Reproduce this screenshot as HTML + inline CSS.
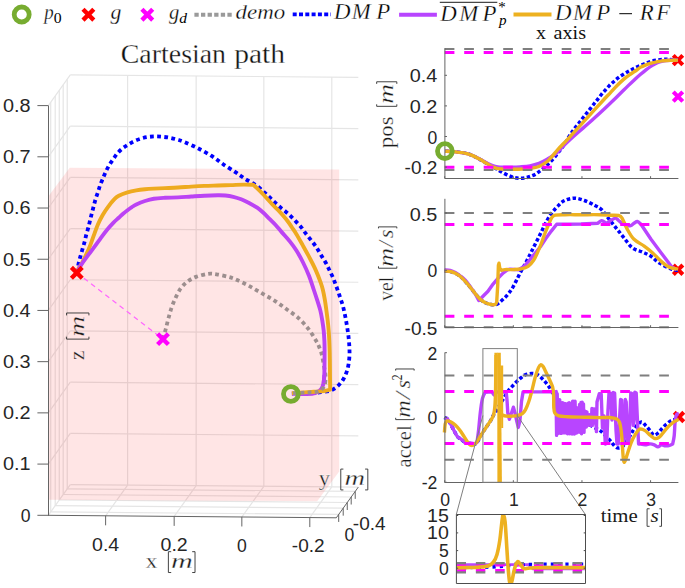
<!DOCTYPE html>
<html><head><meta charset="utf-8"><style>
html,body{margin:0;padding:0;background:#fff;overflow:hidden;}
svg{display:block;}
</style></head><body>
<svg width="685" height="588" viewBox="0 0 685 588">
<rect width="685" height="588" fill="#fff"/>
<g stroke="#E5E5E5" stroke-width="1.2" fill="none">
<line x1="127.61" y1="485.10" x2="127.61" y2="75.40"/>
<line x1="196.16" y1="485.69" x2="196.16" y2="75.99"/>
<line x1="263.84" y1="486.28" x2="263.84" y2="76.58"/>
<line x1="331.80" y1="486.87" x2="331.80" y2="77.17"/>
<line x1="70.30" y1="484.60" x2="358.30" y2="487.10"/>
<line x1="70.30" y1="433.39" x2="358.30" y2="435.89"/>
<line x1="70.30" y1="382.17" x2="358.30" y2="384.67"/>
<line x1="70.30" y1="330.96" x2="358.30" y2="333.46"/>
<line x1="70.30" y1="279.75" x2="358.30" y2="282.25"/>
<line x1="70.30" y1="228.54" x2="358.30" y2="231.04"/>
<line x1="70.30" y1="177.32" x2="358.30" y2="179.82"/>
<line x1="70.30" y1="126.11" x2="358.30" y2="128.61"/>
<line x1="70.30" y1="74.90" x2="358.30" y2="77.40"/>
<line x1="50.70" y1="511.95" x2="50.70" y2="102.25"/>
<line x1="55.21" y1="505.66" x2="55.21" y2="95.96"/>
<line x1="59.26" y1="500.01" x2="59.26" y2="90.31"/>
<line x1="63.19" y1="494.52" x2="63.19" y2="84.82"/>
<line x1="67.22" y1="488.90" x2="67.22" y2="79.20"/>
<line x1="48.30" y1="515.30" x2="70.30" y2="484.60"/>
<line x1="48.30" y1="464.09" x2="70.30" y2="433.39"/>
<line x1="48.30" y1="412.87" x2="70.30" y2="382.17"/>
<line x1="48.30" y1="361.66" x2="70.30" y2="330.96"/>
<line x1="48.30" y1="310.45" x2="70.30" y2="279.75"/>
<line x1="48.30" y1="259.24" x2="70.30" y2="228.54"/>
<line x1="48.30" y1="208.02" x2="70.30" y2="177.32"/>
<line x1="48.30" y1="156.81" x2="70.30" y2="126.11"/>
<line x1="48.30" y1="105.60" x2="70.30" y2="74.90"/>
<line x1="50.70" y1="511.95" x2="338.70" y2="514.45"/>
<line x1="55.21" y1="505.66" x2="343.21" y2="508.16"/>
<line x1="59.26" y1="500.01" x2="347.26" y2="502.51"/>
<line x1="63.19" y1="494.52" x2="351.19" y2="497.02"/>
<line x1="67.22" y1="488.90" x2="355.22" y2="491.40"/>
<line x1="105.61" y1="515.80" x2="127.61" y2="485.10"/>
<line x1="174.16" y1="516.39" x2="196.16" y2="485.69"/>
<line x1="241.84" y1="516.98" x2="263.84" y2="486.28"/>
<line x1="309.80" y1="517.57" x2="331.80" y2="486.87"/>
</g>
<path d="M48.80 499.80 L317.20 501.20 L339.20 471.60 L339.20 169.50 L69.70 167.70 L48.80 195.80 Z" fill="#FF0000" fill-opacity="0.1"/>
<g stroke="#646464" stroke-width="1" fill="none">
<line x1="48.5" y1="105.6" x2="48.5" y2="515.8"/>
<line x1="48.3" y1="515.3" x2="336.3" y2="517.8"/>
<line x1="336.3" y1="517.8" x2="358.3" y2="487.1"/>
<line x1="37.4" y1="515.30" x2="48.3" y2="515.30"/>
<line x1="37.4" y1="464.09" x2="48.3" y2="464.09"/>
<line x1="37.4" y1="412.87" x2="48.3" y2="412.87"/>
<line x1="37.4" y1="361.66" x2="48.3" y2="361.66"/>
<line x1="37.4" y1="310.45" x2="48.3" y2="310.45"/>
<line x1="37.4" y1="259.24" x2="48.3" y2="259.24"/>
<line x1="37.4" y1="208.02" x2="48.3" y2="208.02"/>
<line x1="37.4" y1="156.81" x2="48.3" y2="156.81"/>
<line x1="37.4" y1="105.60" x2="48.3" y2="105.60"/>
<line x1="105.61" y1="515.80" x2="105.61" y2="525.30"/>
<line x1="174.16" y1="516.39" x2="174.16" y2="525.89"/>
<line x1="241.84" y1="516.98" x2="241.84" y2="526.48"/>
<line x1="309.80" y1="517.57" x2="309.80" y2="527.07"/>
<line x1="338.70" y1="514.45" x2="338.70" y2="521.95"/>
<line x1="343.21" y1="508.16" x2="343.21" y2="515.66"/>
<line x1="347.26" y1="502.51" x2="347.26" y2="510.01"/>
<line x1="351.19" y1="497.02" x2="351.19" y2="504.52"/>
<line x1="355.22" y1="491.40" x2="355.22" y2="498.90"/>
</g>
<line x1="76.8" y1="272.8" x2="162.6" y2="338.9" stroke="#FF66FF" stroke-width="1.2" stroke-dasharray="5 4"/>
<path d="M76.80 272.80 C77.13 271.10 78.17 265.43 78.80 262.60 C79.43 259.77 79.95 258.18 80.60 255.80 C81.25 253.42 82.02 250.68 82.70 248.30 C83.38 245.92 84.10 243.80 84.70 241.50 C85.30 239.20 85.68 236.85 86.30 234.50 C86.92 232.15 87.77 229.78 88.40 227.40 C89.03 225.02 89.52 222.60 90.10 220.20 C90.68 217.80 91.30 215.35 91.90 213.00 C92.50 210.65 93.08 208.42 93.70 206.10 C94.32 203.78 94.90 201.40 95.60 199.10 C96.30 196.80 97.15 194.60 97.90 192.30 C98.65 190.00 99.27 187.60 100.10 185.30 C100.93 183.00 101.95 180.77 102.90 178.50 C103.85 176.23 104.77 173.88 105.80 171.70 C106.83 169.52 107.87 167.47 109.10 165.40 C110.33 163.33 111.83 161.28 113.20 159.30 C114.57 157.32 115.75 155.32 117.30 153.50 C118.85 151.68 120.65 149.92 122.50 148.40 C124.35 146.88 126.35 145.65 128.40 144.40 C130.45 143.15 132.57 141.92 134.80 140.90 C137.03 139.88 139.47 138.97 141.80 138.30 C144.13 137.63 146.42 137.22 148.80 136.90 C151.18 136.58 153.67 136.40 156.10 136.40 C158.53 136.40 161.02 136.65 163.40 136.90 C165.78 137.15 168.02 137.43 170.40 137.90 C172.78 138.37 175.37 139.02 177.70 139.70 C180.03 140.38 181.08 140.60 184.40 142.00 C187.72 143.40 193.13 145.82 197.60 148.10 C202.07 150.38 206.95 153.02 211.20 155.70 C215.45 158.38 219.13 161.50 223.10 164.20 C227.07 166.90 232.03 169.93 235.00 171.90 C237.97 173.87 238.97 174.68 240.90 176.00 C242.83 177.32 244.63 178.60 246.60 179.80 C248.57 181.00 250.58 181.87 252.70 183.20 C254.82 184.53 257.27 186.18 259.30 187.80 C261.33 189.42 263.12 191.25 264.90 192.90 C266.68 194.55 268.30 196.08 270.00 197.70 C271.70 199.32 273.32 200.93 275.10 202.60 C276.88 204.27 278.83 206.10 280.70 207.70 C282.57 209.30 284.52 210.68 286.30 212.20 C288.08 213.72 289.70 215.15 291.40 216.80 C293.10 218.45 294.82 220.30 296.50 222.10 C298.18 223.90 299.93 225.67 301.50 227.60 C303.07 229.53 304.42 231.75 305.90 233.70 C307.38 235.65 308.90 237.38 310.40 239.30 C311.90 241.22 313.52 243.23 314.90 245.20 C316.28 247.17 317.43 249.05 318.70 251.10 C319.97 253.15 321.22 255.37 322.50 257.50 C323.78 259.63 325.23 261.77 326.40 263.90 C327.57 266.03 328.45 268.12 329.50 270.30 C330.55 272.48 331.73 274.77 332.70 277.00 C333.67 279.23 334.45 281.45 335.30 283.70 C336.15 285.95 336.98 288.17 337.80 290.50 C338.62 292.83 339.40 295.32 340.20 297.70 C341.00 300.08 341.92 302.43 342.60 304.80 C343.28 307.17 343.77 309.52 344.30 311.90 C344.83 314.28 345.35 316.72 345.80 319.10 C346.25 321.48 346.62 323.82 347.00 326.20 C347.38 328.58 347.78 331.02 348.10 333.40 C348.42 335.78 348.68 338.12 348.90 340.50 C349.12 342.88 349.30 345.28 349.40 347.70 C349.50 350.12 349.63 352.28 349.50 355.00 C349.37 357.72 349.05 361.25 348.60 364.00 C348.15 366.75 347.65 369.00 346.80 371.50 C345.95 374.00 344.72 376.87 343.50 379.00 C342.28 381.13 340.92 382.77 339.50 384.30 C338.08 385.83 336.75 387.08 335.00 388.20 C333.25 389.32 331.83 390.28 329.00 391.00 C326.17 391.72 322.00 392.13 318.00 392.50 C314.00 392.87 309.35 393.02 305.00 393.20 C300.65 393.38 294.08 393.53 291.90 393.60" stroke="#0000FF" stroke-width="3.8" fill="none" stroke-dasharray="3.8 3.35"/>
<path d="M324.30 375.00 C324.18 376.33 324.13 380.62 323.60 383.00 C323.07 385.38 322.48 387.62 321.10 389.30 C319.72 390.98 317.73 392.32 315.30 393.10 C312.87 393.88 310.40 393.90 306.50 394.00 C302.60 394.10 294.33 393.75 291.90 393.70" stroke="#BB43F4" stroke-width="3.9" fill="none" stroke-linejoin="round"/>
<path d="M76.80 272.80 C77.13 272.00 77.90 269.70 78.80 268.00 C79.70 266.30 80.95 264.87 82.20 262.60 C83.45 260.33 84.93 257.35 86.30 254.40 C87.67 251.45 89.15 248.07 90.40 244.90 C91.65 241.73 92.55 238.80 93.80 235.40 C95.05 232.00 96.42 227.90 97.90 224.50 C99.38 221.10 101.00 217.95 102.70 215.00 C104.40 212.05 106.15 209.43 108.10 206.80 C110.05 204.17 112.62 201.03 114.40 199.20 C116.18 197.37 116.62 196.95 118.80 195.80 C120.98 194.65 124.58 193.22 127.50 192.30 C130.42 191.38 133.38 190.82 136.30 190.30 C139.22 189.78 142.08 189.48 145.00 189.20 C147.92 188.92 150.47 188.78 153.80 188.60 C157.13 188.42 160.95 188.28 165.00 188.10 C169.05 187.92 173.72 187.75 178.10 187.50 C182.48 187.25 186.92 186.87 191.30 186.60 C195.68 186.33 200.02 186.08 204.40 185.90 C208.78 185.72 213.22 185.63 217.60 185.50 C221.98 185.37 226.33 185.25 230.70 185.10 C235.07 184.95 240.05 184.65 243.80 184.60 C247.55 184.55 251.63 184.77 253.20 184.80 L253.20 184.80 C253.87 185.38 255.68 186.87 257.20 188.30 C258.72 189.73 260.60 191.62 262.30 193.40 C264.00 195.18 265.68 197.13 267.40 199.00 C269.12 200.87 270.88 202.82 272.60 204.60 C274.32 206.38 276.00 207.92 277.70 209.70 C279.40 211.48 281.10 213.33 282.80 215.30 C284.50 217.27 286.37 219.47 287.90 221.50 C289.43 223.53 290.55 225.33 292.00 227.50 C293.45 229.67 294.80 231.52 296.60 234.50 C298.40 237.48 300.72 241.67 302.80 245.40 C304.88 249.13 306.98 252.87 309.10 256.90 C311.22 260.93 313.58 265.35 315.50 269.60 C317.42 273.85 319.37 279.00 320.60 282.40 C321.83 285.80 322.18 287.03 322.90 290.00 C323.62 292.97 324.32 296.80 324.90 300.20 C325.48 303.60 325.93 307.00 326.40 310.40 C326.87 313.80 327.32 317.20 327.70 320.60 C328.08 324.00 328.43 327.40 328.70 330.80 C328.97 334.20 329.13 337.47 329.30 341.00 C329.47 344.53 329.60 348.00 329.70 352.00 C329.80 356.00 329.85 360.92 329.90 365.00 C329.95 369.08 329.95 372.40 330.00 376.50 C330.05 380.60 330.17 387.42 330.20 389.60 L330.20 389.60 C329.17 389.85 326.73 390.73 324.00 391.10 C321.27 391.47 317.93 391.55 313.80 391.80 C309.67 392.05 302.85 392.35 299.20 392.60 C295.55 392.85 293.12 393.18 291.90 393.30" stroke="#EEAA1F" stroke-width="3.9" fill="none" stroke-linejoin="round"/>
<path d="M162.60 338.90 C163.08 337.40 164.58 333.10 165.50 329.90 C166.42 326.70 167.10 323.38 168.10 319.70 C169.10 316.02 170.23 311.48 171.50 307.80 C172.77 304.12 174.15 300.85 175.70 297.60 C177.25 294.35 178.82 290.98 180.80 288.30 C182.78 285.62 185.05 283.40 187.60 281.50 C190.15 279.60 192.70 278.18 196.10 276.90 C199.50 275.62 204.60 274.23 208.00 273.80 C211.40 273.37 213.10 273.78 216.50 274.30 C219.90 274.82 225.07 276.00 228.40 276.90 C231.73 277.80 233.08 278.20 236.50 279.70 C239.92 281.20 244.70 283.65 248.90 285.90 C253.10 288.15 257.45 290.75 261.70 293.20 C265.95 295.65 270.30 297.97 274.40 300.60 C278.50 303.23 282.33 306.13 286.30 309.00 C290.27 311.87 294.52 314.48 298.20 317.80 C301.88 321.12 305.42 325.07 308.40 328.90 C311.38 332.73 314.20 337.55 316.10 340.80 C318.00 344.05 318.85 346.10 319.80 348.40 C320.75 350.70 321.10 351.62 321.80 354.60 C322.50 357.58 323.38 362.65 324.00 366.30 C324.62 369.95 325.50 373.10 325.50 376.50 C325.50 379.90 325.47 384.15 324.00 386.70 C322.53 389.25 319.62 390.82 316.70 391.80 C313.78 392.78 310.63 392.35 306.50 392.60 C302.37 392.85 294.33 393.18 291.90 393.30" stroke="#9C8E8E" stroke-width="3.8" fill="none" stroke-dasharray="3.8 3.35"/>
<path d="M76.80 272.80 C77.48 271.55 79.32 267.83 80.90 265.30 C82.48 262.77 84.27 260.38 86.30 257.60 C88.33 254.82 90.83 251.65 93.10 248.60 C95.37 245.55 97.63 242.37 99.90 239.30 C102.17 236.23 104.43 232.98 106.70 230.20 C108.97 227.42 111.48 224.68 113.50 222.60 C115.52 220.52 117.20 219.18 118.80 217.70 C120.40 216.22 121.65 214.95 123.10 213.70 C124.55 212.45 126.03 211.30 127.50 210.20 C128.97 209.10 130.43 208.05 131.90 207.10 C133.37 206.15 134.12 205.52 136.30 204.50 C138.48 203.48 142.08 201.97 145.00 201.00 C147.92 200.03 150.47 199.23 153.80 198.70 C157.13 198.17 160.95 198.02 165.00 197.80 C169.05 197.58 173.72 197.62 178.10 197.40 C182.48 197.18 186.92 196.78 191.30 196.50 C195.68 196.22 200.02 195.90 204.40 195.70 C208.78 195.50 214.10 195.33 217.60 195.30 C221.10 195.27 222.78 195.25 225.40 195.50 C228.02 195.75 230.67 196.17 233.30 196.80 C235.93 197.43 238.57 198.25 241.20 199.30 C243.83 200.35 246.43 201.70 249.10 203.10 C251.77 204.50 254.82 206.08 257.20 207.70 C259.58 209.32 261.35 210.93 263.40 212.80 C265.45 214.67 267.47 216.87 269.50 218.90 C271.53 220.93 273.57 222.80 275.60 225.00 C277.63 227.20 279.30 229.33 281.70 232.10 C284.10 234.87 287.55 238.53 290.00 241.60 C292.45 244.67 294.27 247.10 296.40 250.50 C298.53 253.90 300.68 257.75 302.80 262.00 C304.92 266.25 307.28 271.42 309.10 276.00 C310.92 280.58 312.35 285.47 313.70 289.50 C315.05 293.53 316.10 296.72 317.20 300.20 C318.30 303.68 319.45 307.00 320.30 310.40 C321.15 313.80 321.73 317.20 322.30 320.60 C322.87 324.00 323.35 327.40 323.70 330.80 C324.05 334.20 324.25 337.80 324.40 341.00 C324.55 344.20 324.58 346.00 324.60 350.00 C324.62 354.00 324.55 360.83 324.50 365.00 C324.45 369.17 324.45 372.00 324.30 375.00 C324.15 378.00 323.72 381.67 323.60 383.00" stroke="#BB43F4" stroke-width="3.9" fill="none" stroke-linejoin="round"/>
<path d="M71.40 267.40 L82.20 278.20 M71.40 278.20 L82.20 267.40" stroke="#FF0000" stroke-width="4.40" fill="none"/>
<path d="M157.60 333.70 L168.40 344.50 M157.60 344.50 L168.40 333.70" stroke="#FF00FF" stroke-width="4.40" fill="none"/>
<circle cx="290.90" cy="394.00" r="7.40" stroke="#77AC30" stroke-width="4.80" fill="none"/>
<g style="font-family:'Liberation Sans',sans-serif">
<text x="30.60" y="521.60" text-anchor="end" font-size="17.6" fill="#262626">0</text>
<text x="30.60" y="470.39" text-anchor="end" font-size="17.6" fill="#262626" textLength="27.6" lengthAdjust="spacingAndGlyphs">0.1</text>
<text x="30.60" y="419.17" text-anchor="end" font-size="17.6" fill="#262626" textLength="27.6" lengthAdjust="spacingAndGlyphs">0.2</text>
<text x="30.60" y="367.96" text-anchor="end" font-size="17.6" fill="#262626" textLength="27.6" lengthAdjust="spacingAndGlyphs">0.3</text>
<text x="30.60" y="316.75" text-anchor="end" font-size="17.6" fill="#262626" textLength="27.6" lengthAdjust="spacingAndGlyphs">0.4</text>
<text x="30.60" y="265.54" text-anchor="end" font-size="17.6" fill="#262626" textLength="27.6" lengthAdjust="spacingAndGlyphs">0.5</text>
<text x="30.60" y="214.32" text-anchor="end" font-size="17.6" fill="#262626" textLength="27.6" lengthAdjust="spacingAndGlyphs">0.6</text>
<text x="30.60" y="163.11" text-anchor="end" font-size="17.6" fill="#262626" textLength="27.6" lengthAdjust="spacingAndGlyphs">0.7</text>
<text x="30.60" y="111.90" text-anchor="end" font-size="17.6" fill="#262626" textLength="27.6" lengthAdjust="spacingAndGlyphs">0.8</text>
<text x="105.61" y="550.60" text-anchor="middle" font-size="17.6" fill="#262626" textLength="27.2" lengthAdjust="spacingAndGlyphs">0.4</text>
<text x="174.16" y="551.19" text-anchor="middle" font-size="17.6" fill="#262626" textLength="27.2" lengthAdjust="spacingAndGlyphs">0.2</text>
<text x="241.84" y="551.78" text-anchor="middle" font-size="17.6" fill="#262626">0</text>
<text x="308.20" y="552.37" text-anchor="middle" font-size="17.6" fill="#262626" textLength="32.8" lengthAdjust="spacingAndGlyphs">-0.2</text>
<text x="349.30" y="541.40" text-anchor="middle" font-size="17.6" fill="#262626">0</text>
<text x="369.20" y="529.80" text-anchor="middle" font-size="17.6" fill="#262626" textLength="32.8" lengthAdjust="spacingAndGlyphs">-0.4</text>
</g>
<path d="M673.25 55.35 L682.75 64.85 M673.25 64.85 L682.75 55.35" stroke="#FF0000" stroke-width="4.10" fill="none"/>
<path d="M673.25 91.85 L682.75 101.35 M673.25 101.35 L682.75 91.85" stroke="#FF00FF" stroke-width="4.10" fill="none"/>
<path d="M673.35 265.05 L682.85 274.55 M673.35 274.55 L682.85 265.05" stroke="#FF0000" stroke-width="4.10" fill="none"/>
<path d="M674.25 412.25 L683.75 421.75 M674.25 421.75 L683.75 412.25" stroke="#FF0000" stroke-width="4.10" fill="none"/>
<path d="M445.10 151.20 C446.43 151.27 450.00 151.32 453.10 151.60 C456.20 151.88 460.63 152.32 463.70 152.90 C466.77 153.48 468.88 154.07 471.50 155.10 C474.12 156.13 476.98 157.78 479.40 159.10 C481.82 160.42 483.80 161.70 486.00 163.00 C488.20 164.30 490.73 165.83 492.60 166.90 C494.47 167.97 495.78 168.58 497.20 169.40 C498.62 170.22 499.47 170.90 501.10 171.80 C502.73 172.70 505.03 173.90 507.00 174.80 C508.97 175.70 510.93 176.63 512.90 177.20 C514.87 177.77 516.87 178.08 518.80 178.20 C520.73 178.32 522.60 178.18 524.50 177.90 C526.40 177.62 528.35 177.13 530.20 176.50 C532.05 175.87 533.78 175.17 535.60 174.10 C537.42 173.03 539.38 171.42 541.10 170.10 C542.82 168.78 544.43 167.48 545.90 166.20 C547.37 164.92 548.43 163.92 549.90 162.40 C551.37 160.88 553.10 159.00 554.70 157.10 C556.30 155.20 558.03 152.92 559.50 151.00 C560.97 149.08 561.63 148.43 563.50 145.60 C565.37 142.77 568.85 136.85 570.70 134.00 C572.55 131.15 573.32 130.20 574.60 128.50 C575.88 126.80 577.13 125.40 578.40 123.80 C579.67 122.20 580.93 120.53 582.20 118.90 C583.47 117.27 584.72 115.62 586.00 114.00 C587.28 112.38 588.62 110.82 589.90 109.20 C591.18 107.58 592.47 105.87 593.70 104.30 C594.93 102.73 596.02 101.43 597.30 99.80 C598.58 98.17 600.05 96.13 601.40 94.50 C602.75 92.87 604.05 91.50 605.40 90.00 C606.75 88.50 608.12 86.88 609.50 85.50 C610.88 84.12 612.22 83.00 613.70 81.70 C615.18 80.40 616.77 78.93 618.40 77.70 C620.03 76.47 621.75 75.40 623.50 74.30 C625.25 73.20 627.20 72.07 628.90 71.10 C630.60 70.13 631.95 69.38 633.70 68.50 C635.45 67.62 637.50 66.62 639.40 65.80 C641.30 64.98 643.20 64.33 645.10 63.60 C647.00 62.87 648.82 61.98 650.80 61.40 C652.78 60.82 654.95 60.43 657.00 60.10 C659.05 59.77 661.22 59.53 663.10 59.40 C664.98 59.27 665.82 59.18 668.30 59.30 C670.78 59.42 676.38 59.97 678.00 60.10" stroke="#0000FF" stroke-width="3.5" fill="none" stroke-dasharray="3.5 2.35"/>
<path d="M445.10 151.20 C446.43 151.27 450.00 151.32 453.10 151.60 C456.20 151.88 460.63 152.32 463.70 152.90 C466.77 153.48 468.88 154.10 471.50 155.10 C474.12 156.10 476.98 157.67 479.40 158.90 C481.82 160.13 483.80 161.38 486.00 162.50 C488.20 163.62 490.63 164.87 492.60 165.60 C494.57 166.33 495.73 166.63 497.80 166.90 C499.87 167.17 502.58 167.13 505.00 167.20 C507.42 167.27 509.80 167.35 512.30 167.30 C514.80 167.25 517.05 167.15 520.00 166.90 C522.95 166.65 526.83 166.40 530.00 165.80 C533.17 165.20 536.13 164.40 539.00 163.30 C541.87 162.20 544.37 160.80 547.20 159.20 C550.03 157.60 553.53 155.67 556.00 153.70 C558.47 151.73 560.00 149.43 562.00 147.40 C564.00 145.37 566.00 143.40 568.00 141.50 C570.00 139.60 572.00 137.80 574.00 136.00 C576.00 134.20 578.00 132.45 580.00 130.70 C582.00 128.95 584.00 127.25 586.00 125.50 C588.00 123.75 590.00 121.98 592.00 120.20 C594.00 118.42 596.00 116.63 598.00 114.80 C600.00 112.97 602.00 111.08 604.00 109.20 C606.00 107.32 608.00 105.42 610.00 103.50 C612.00 101.58 614.00 99.65 616.00 97.70 C618.00 95.75 620.00 93.77 622.00 91.80 C624.00 89.83 626.00 87.83 628.00 85.90 C630.00 83.97 632.00 82.05 634.00 80.20 C636.00 78.35 638.00 76.53 640.00 74.80 C642.00 73.07 644.00 71.33 646.00 69.80 C648.00 68.27 650.00 66.83 652.00 65.60 C654.00 64.37 656.00 63.20 658.00 62.40 C660.00 61.60 662.00 61.17 664.00 60.80 C666.00 60.43 667.67 60.32 670.00 60.20 C672.33 60.08 676.67 60.12 678.00 60.10" stroke="#B845FF" stroke-width="3.4" fill="none"/>
<path d="M445.10 151.20 C446.43 151.27 450.00 151.32 453.10 151.60 C456.20 151.88 460.63 152.32 463.70 152.90 C466.77 153.48 468.88 154.07 471.50 155.10 C474.12 156.13 476.98 157.78 479.40 159.10 C481.82 160.42 483.80 161.70 486.00 163.00 C488.20 164.30 490.63 165.97 492.60 166.90 C494.57 167.83 495.62 168.22 497.80 168.60 C499.98 168.98 502.20 169.10 505.70 169.20 C509.20 169.30 514.75 169.33 518.80 169.20 C522.85 169.07 526.63 168.85 530.00 168.40 C533.37 167.95 536.13 167.65 539.00 166.50 C541.87 165.35 544.95 163.28 547.20 161.50 C549.45 159.72 550.63 157.90 552.50 155.80 C554.37 153.70 555.85 151.68 558.40 148.90 C560.95 146.12 564.82 142.28 567.80 139.10 C570.78 135.92 573.47 132.92 576.30 129.80 C579.13 126.68 581.97 123.52 584.80 120.40 C587.63 117.28 590.18 114.50 593.30 111.10 C596.42 107.70 600.67 103.05 603.50 100.00 C606.33 96.95 608.03 95.22 610.30 92.80 C612.57 90.38 614.83 87.78 617.10 85.50 C619.37 83.22 621.63 81.02 623.90 79.10 C626.17 77.18 628.80 75.35 630.70 74.00 C632.60 72.65 633.62 72.15 635.30 71.00 C636.98 69.85 639.02 68.12 640.80 67.10 C642.58 66.08 644.25 65.57 646.00 64.90 C647.75 64.23 649.55 63.62 651.30 63.10 C653.05 62.58 654.75 62.17 656.50 61.80 C658.25 61.43 660.05 61.12 661.80 60.90 C663.55 60.68 665.25 60.60 667.00 60.50 C668.75 60.40 670.47 60.37 672.30 60.30 C674.13 60.23 677.05 60.13 678.00 60.10" stroke="#EDB120" stroke-width="3.4" fill="none"/>
<path d="M444.60 271.10 C445.53 271.17 448.42 271.15 450.20 271.50 C451.98 271.85 453.60 272.37 455.30 273.20 C457.00 274.03 458.70 275.10 460.40 276.50 C462.10 277.90 463.80 279.73 465.50 281.60 C467.20 283.47 468.88 285.58 470.60 287.70 C472.32 289.82 474.08 292.27 475.80 294.30 C477.52 296.33 479.20 298.45 480.90 299.90 C482.60 301.35 484.30 302.23 486.00 303.00 C487.70 303.77 489.57 304.23 491.10 304.50 C492.63 304.77 493.97 304.82 495.20 304.60 C496.43 304.38 497.15 304.12 498.50 303.20 C499.85 302.28 501.73 300.58 503.30 299.10 C504.87 297.62 506.28 296.32 507.90 294.30 C509.52 292.28 510.98 290.52 513.00 287.00 C515.02 283.48 518.27 276.52 520.00 273.20 C521.73 269.88 522.32 269.07 523.40 267.10 C524.48 265.13 525.48 263.33 526.50 261.40 C527.52 259.47 528.55 257.38 529.50 255.50 C530.45 253.62 531.30 251.90 532.20 250.10 C533.10 248.30 533.98 246.52 534.90 244.70 C535.82 242.88 536.78 241.02 537.70 239.20 C538.62 237.38 539.50 235.62 540.40 233.80 C541.30 231.98 542.20 230.12 543.10 228.30 C544.00 226.48 544.85 224.72 545.80 222.90 C546.75 221.08 547.67 219.22 548.80 217.40 C549.93 215.58 551.17 213.80 552.60 212.00 C554.03 210.20 555.50 208.47 557.40 206.60 C559.30 204.73 561.20 202.20 564.00 200.80 C566.80 199.40 570.80 198.25 574.20 198.20 C577.60 198.15 581.00 199.32 584.40 200.50 C587.80 201.68 591.72 203.75 594.60 205.30 C597.48 206.85 599.10 207.25 601.70 209.80 C604.30 212.35 607.65 217.38 610.20 220.60 C612.75 223.82 614.73 226.27 617.00 229.10 C619.27 231.93 621.25 234.48 623.80 237.60 C626.35 240.72 629.18 245.38 632.30 247.80 C635.42 250.22 639.38 250.68 642.50 252.10 C645.62 253.52 648.17 254.47 651.00 256.30 C653.83 258.13 656.10 260.97 659.50 263.10 C662.90 265.23 668.28 267.90 671.40 269.10 C674.52 270.30 677.07 270.10 678.20 270.30" stroke="#0000FF" stroke-width="3.5" fill="none" stroke-dasharray="3.5 2.35"/>
<path d="M444.60 269.80 C445.53 269.88 448.42 269.87 450.20 270.30 C451.98 270.73 453.60 271.45 455.30 272.40 C457.00 273.35 458.70 274.65 460.40 276.00 C462.10 277.35 463.80 278.63 465.50 280.50 C467.20 282.37 468.88 284.82 470.60 287.20 C472.32 289.58 474.43 292.58 475.80 294.80 C477.17 297.02 478.30 299.55 478.80 300.50 L478.80 300.50 L488.00 291.30 L493.10 284.10 L498.20 278.00 L503.30 272.90 L507.40 269.80 L507.40 269.80 C507.83 269.72 508.13 269.30 510.00 269.30 C511.87 269.30 517.17 269.72 518.60 269.80 L518.60 269.80 L524.00 266.40 L529.50 260.30 L534.90 253.50 L540.40 246.70 L545.80 238.50 L551.30 231.10 L556.70 224.30 L565.00 224.30 L581.00 224.00 L598.00 223.20 L598.00 223.20 C598.57 222.77 600.27 220.75 601.40 220.60 C602.53 220.45 603.90 221.87 604.80 222.30 C605.70 222.73 605.93 223.42 606.80 223.20 C607.67 222.98 608.58 221.85 610.00 221.00 C611.42 220.15 613.88 218.18 615.30 218.10 C616.72 218.02 617.37 219.65 618.50 220.50 C619.63 221.35 620.85 222.40 622.10 223.20 C623.35 224.00 624.58 224.88 626.00 225.30 C627.42 225.72 629.27 226.03 630.60 225.70 C631.93 225.37 632.87 224.00 634.00 223.30 C635.13 222.60 636.27 221.38 637.40 221.50 C638.53 221.62 640.23 223.58 640.80 224.00 L640.80 224.00 L651.00 239.30 L661.20 252.90 L671.40 266.50 L676.50 269.90" stroke="#B845FF" stroke-width="3.4" fill="none" stroke-linejoin="round"/>
<path d="M444.60 271.10 C445.53 271.17 448.42 271.15 450.20 271.50 C451.98 271.85 453.60 272.37 455.30 273.20 C457.00 274.03 458.70 275.10 460.40 276.50 C462.10 277.90 463.80 279.73 465.50 281.60 C467.20 283.47 468.88 285.58 470.60 287.70 C472.32 289.82 474.08 292.27 475.80 294.30 C477.52 296.33 479.20 298.45 480.90 299.90 C482.60 301.35 484.30 302.23 486.00 303.00 C487.70 303.77 489.57 304.25 491.10 304.50 C492.63 304.75 494.27 304.92 495.20 304.50 C496.13 304.08 496.45 302.42 496.70 302.00 L496.70 302.00 L497.70 285.60 L498.40 265.20 L499.00 263.20 L499.80 268.30 L501.30 270.30 L501.30 270.30 C501.92 270.18 503.02 269.72 505.00 269.60 C506.98 269.48 510.48 269.72 513.20 269.60 C515.92 269.48 518.82 269.43 521.30 268.90 C523.78 268.37 526.05 267.83 528.10 266.40 C530.15 264.97 532.00 262.68 533.60 260.30 C535.20 257.92 536.45 254.82 537.70 252.10 C538.95 249.38 539.97 246.93 541.10 244.00 C542.23 241.07 543.27 237.68 544.50 234.50 C545.73 231.32 547.27 227.75 548.50 224.90 C549.73 222.05 550.77 219.03 551.90 217.40 C553.03 215.77 553.12 215.55 555.30 215.10 C557.48 214.65 560.72 214.77 565.00 214.70 C569.28 214.63 575.17 214.70 581.00 214.70 C586.83 214.70 595.18 214.62 600.00 214.70 C604.82 214.78 606.78 215.07 609.90 215.20 C613.02 215.33 616.67 215.02 618.70 215.50 C620.73 215.98 620.68 215.83 622.10 218.10 C623.52 220.37 625.22 225.57 627.20 229.10 C629.18 232.63 631.17 236.47 634.00 239.30 C636.83 242.13 641.08 243.83 644.20 246.10 C647.32 248.37 649.87 250.35 652.70 252.90 C655.53 255.45 658.37 258.98 661.20 261.40 C664.03 263.82 666.87 266.12 669.70 267.40 C672.53 268.68 676.78 268.82 678.20 269.10" stroke="#EDB120" stroke-width="3.4" fill="none" stroke-linejoin="round"/>
<path d="M444.40 417.50 C444.95 417.80 446.60 418.08 447.70 419.30 C448.80 420.52 449.88 422.78 451.00 424.80 C452.12 426.82 453.28 429.38 454.40 431.40 C455.52 433.42 456.60 435.62 457.70 436.90 C458.80 438.18 459.72 438.17 461.00 439.10 C462.28 440.03 463.93 441.77 465.40 442.50 C466.87 443.23 468.37 443.17 469.80 443.50 C471.23 443.83 472.72 444.82 474.00 444.50 C475.28 444.18 476.17 443.42 477.50 441.60 C478.83 439.78 480.52 436.03 482.00 433.60 C483.48 431.17 484.93 429.20 486.40 427.00 C487.87 424.80 489.60 422.43 490.80 420.40 C492.00 418.37 492.73 416.28 493.60 414.80 C494.47 413.32 494.85 413.38 496.00 411.50 C497.15 409.62 499.08 405.92 500.50 403.50 C501.92 401.08 503.22 399.08 504.50 397.00 C505.78 394.92 506.95 392.72 508.20 391.00 C509.45 389.28 510.65 388.20 512.00 386.70 C513.35 385.20 514.88 383.42 516.30 382.00 C517.72 380.58 519.02 379.40 520.50 378.20 C521.98 377.00 523.35 375.58 525.20 374.80 C527.05 374.02 529.52 373.48 531.60 373.50 C533.68 373.52 535.88 374.00 537.70 374.90 C539.52 375.80 540.88 377.28 542.50 378.90 C544.12 380.52 545.88 382.58 547.40 384.60 C548.92 386.62 550.17 388.68 551.60 391.00 C553.03 393.32 554.43 395.85 556.00 398.50 C557.57 401.15 558.58 404.32 561.00 406.90 C563.42 409.48 567.33 412.02 570.50 414.00 C573.67 415.98 576.83 417.05 580.00 418.80 C583.17 420.55 587.15 423.05 589.50 424.50 C591.85 425.95 592.22 426.38 594.10 427.50 C595.98 428.62 598.23 429.13 600.80 431.20 C603.37 433.27 607.45 437.73 609.50 439.90 C611.55 442.07 611.78 442.87 613.10 444.20 C614.42 445.53 615.83 447.53 617.40 447.90 C618.97 448.27 620.45 448.33 622.50 446.40 C624.55 444.47 628.02 438.83 629.70 436.30 C631.38 433.77 631.40 433.00 632.60 431.20 C633.80 429.40 635.42 427.05 636.90 425.50 C638.38 423.95 640.05 421.90 641.50 421.90 C642.95 421.90 644.23 424.13 645.60 425.50 C646.97 426.87 648.33 428.48 649.70 430.10 C651.07 431.72 652.35 434.77 653.80 435.20 C655.25 435.63 657.05 433.80 658.40 432.70 C659.75 431.60 660.63 429.97 661.90 428.60 C663.17 427.23 664.55 425.78 666.00 424.50 C667.45 423.22 669.15 421.75 670.60 420.90 C672.05 420.05 673.30 419.97 674.70 419.40 C676.10 418.83 678.28 417.82 679.00 417.50" stroke="#0000FF" stroke-width="3.5" fill="none" stroke-dasharray="3.5 2.35"/>
<path d="M445.00 417.60 C445.45 417.88 446.70 418.10 447.70 419.30 C448.70 420.50 449.88 422.78 451.00 424.80 C452.12 426.82 453.28 429.38 454.40 431.40 C455.52 433.42 456.60 435.62 457.70 436.90 C458.80 438.18 459.72 438.17 461.00 439.10 C462.28 440.03 463.93 441.85 465.40 442.50 C466.87 443.15 468.32 442.82 469.80 443.00 C471.28 443.18 473.10 443.68 474.30 443.60 C475.50 443.52 476.55 442.68 477.00 442.50 L477.00 442.50 C477.28 440.28 478.15 434.18 478.70 429.20 C479.25 424.22 479.67 417.75 480.30 412.60 C480.93 407.45 481.67 401.70 482.50 398.30 C483.33 394.90 484.83 393.22 485.30 392.20 L485.30 392.20 L491.90 391.90 L494.10 394.90 L496.00 392.00 L504.00 392.00 L506.20 391.90 L506.20 391.90 L507.00 400.00 L507.80 412.90 L509.40 419.30 L511.00 414.50 L513.40 407.20 L515.00 412.90 L516.70 420.90 L518.30 427.40 L519.90 420.90 L521.50 401.50 L523.10 391.90 L523.10 391.90 L553.50 391.90 L555.20 392.50 L556.20 391.50 L556.00 393.53 L556.62 435.41 L557.21 393.67 L557.83 433.56 L558.44 400.97 L559.13 431.84 L559.67 399.63 L560.36 433.33 L560.82 404.86 L561.56 433.23 L562.20 402.79 L562.65 432.92 L563.12 402.88 L563.64 431.68 L564.23 403.50 L564.93 432.90 L565.57 403.65 L566.22 432.74 L566.76 404.89 L567.51 433.70 L568.17 403.19 L568.69 432.32 L569.16 402.82 L569.73 433.72 L570.29 403.30 L571.00 431.60 L571.51 403.18 L572.10 434.05 L572.67 401.08 L573.31 433.55 L573.84 401.12 L574.39 434.01 L575.07 401.19 L575.59 431.85 L576.06 409.39 L576.56 433.00 L577.15 407.88 L577.82 431.93 L578.46 407.69 L579.04 432.13 L579.57 404.33 L580.26 432.36 L580.97 402.43 L581.54 433.74 L582.18 402.15 L582.93 432.13 L583.46 403.83 L584.01 432.34 L584.48 410.63 L585.10 425.21 L585.74 411.33 L586.32 427.00 L586.92 411.84 L587.63 425.06 L588.12 415.17 L588.82 425.22 L589.32 414.75 L590.06 425.09 L590.79 415.11 L591.42 425.65 L591.90 408.50 L592.64 425.20 L593.30 409.04 L594.00 420.59 L594.54 408.84 L595.21 419.27 L595.72 413.80 L596.43 431.64 L597.00 402.00 L599.30 393.70 L601.20 394.00 L602.50 428.00 L604.00 416.00 L605.30 444.00 L606.80 443.00 L608.00 410.00 L609.00 393.00 L610.80 393.50 L612.00 420.00 L613.20 392.50 L614.60 393.00 L616.00 430.00 L617.00 444.00 L618.30 444.00 L619.50 420.00 L620.60 399.50 L621.60 400.00 L622.60 430.00 L623.50 444.00 L624.50 430.00 L625.30 399.50 L626.20 402.00 L627.50 443.00 L629.00 442.00 L630.20 410.00 L630.80 393.00 L631.80 393.50 L633.30 425.50 L634.00 420.00 L634.80 392.20 L636.20 393.00 L637.20 415.00 L638.60 444.00 L640.00 444.00 L640.00 443.90 C640.85 444.07 643.40 444.90 645.10 444.90 C646.80 444.90 648.67 443.90 650.20 443.90 C651.73 443.90 653.02 444.40 654.30 444.90 C655.58 445.40 656.72 446.90 657.90 446.90 C659.08 446.90 660.13 445.07 661.40 444.90 C662.67 444.73 664.13 445.82 665.50 445.90 C666.87 445.98 668.40 445.73 669.60 445.40 C670.80 445.07 672.18 444.15 672.70 443.90 L672.70 443.90 C672.95 442.53 673.78 439.62 674.20 435.70 C674.62 431.78 674.78 423.97 675.20 420.40 C675.62 416.83 676.10 415.40 676.70 414.30 C677.30 413.20 678.45 413.88 678.80 413.80" stroke="#B845FF" stroke-width="3.4" fill="none" stroke-linejoin="round"/>
<path d="M444.40 432.50 C444.55 431.03 444.83 425.63 445.30 423.70 C445.77 421.77 446.25 421.18 447.20 420.90 C448.15 420.62 449.62 421.27 451.00 422.00 C452.38 422.73 454.02 423.92 455.50 425.30 C456.98 426.68 458.43 428.37 459.90 430.30 C461.37 432.23 462.83 434.68 464.30 436.90 C465.77 439.12 467.42 442.15 468.70 443.60 C469.98 445.05 470.88 445.60 472.00 445.60 C473.12 445.60 474.28 444.68 475.40 443.60 C476.52 442.52 477.60 440.77 478.70 439.10 C479.80 437.43 480.72 435.62 482.00 433.60 C483.28 431.58 484.93 429.20 486.40 427.00 C487.87 424.80 489.60 422.43 490.80 420.40 C492.00 418.37 492.93 417.02 493.60 414.80 C494.27 412.58 494.48 410.40 494.80 407.10 C495.12 403.80 495.38 397.02 495.50 395.00 L495.50 395.00 L496.00 355.00" stroke="#EDB120" stroke-width="3.4" fill="none" stroke-linejoin="round"/>
<path d="M494.4 352.7 L497.6 352.7 L497.2 400 L496.2 412 L494.6 412 Z" fill="#EDB120"/>
<path d="M497.2 352.7 L500.8 352.7 L501.9 482.3 L497.4 482.3 Z" fill="#EDB120"/>
<path d="M500.6 365.5 L503.2 365.5 L503.2 428 L501.2 428 Z" fill="#EDB120"/>
<path d="M501.00 414.50 C501.87 414.77 504.27 415.83 506.20 416.10 C508.13 416.37 510.58 416.23 512.60 416.10 C514.62 415.97 516.68 415.70 518.30 415.30 C519.92 414.90 521.10 414.65 522.30 413.70 C523.50 412.75 524.42 411.63 525.50 409.60 C526.58 407.57 527.72 404.73 528.80 401.50 C529.88 398.27 530.93 394.23 532.00 390.20 C533.07 386.17 534.12 381.07 535.20 377.30 C536.28 373.53 537.55 369.70 538.50 367.60 C539.45 365.50 540.10 364.83 540.90 364.70 C541.70 364.57 542.37 365.37 543.30 366.80 C544.23 368.23 545.40 371.02 546.50 373.30 C547.60 375.58 548.88 378.22 549.90 380.50 C550.92 382.78 551.98 384.58 552.60 387.00 C553.22 389.42 553.40 391.57 553.60 395.00 C553.80 398.43 553.58 404.58 553.80 407.60 C554.02 410.62 554.07 411.72 554.90 413.10 C555.73 414.48 556.68 415.30 558.80 415.90 C560.92 416.50 563.37 416.48 567.60 416.70 C571.83 416.92 578.80 417.05 584.20 417.20 C589.60 417.35 595.78 417.55 600.00 417.60 C604.22 417.65 606.72 417.27 609.50 417.50 C612.28 417.73 615.02 418.15 616.70 419.00 C618.38 419.85 618.77 419.83 619.60 422.60 C620.43 425.37 621.10 429.82 621.70 435.60 C622.30 441.38 622.72 452.85 623.20 457.30 C623.68 461.75 624.00 462.55 624.60 462.30 C625.20 462.05 625.72 459.05 626.80 455.80 C627.88 452.55 629.65 446.42 631.10 442.80 C632.55 439.18 634.05 436.38 635.50 434.10 C636.95 431.82 638.20 429.68 639.80 429.10 C641.40 428.52 643.37 429.58 645.10 430.60 C646.83 431.62 648.67 433.92 650.20 435.20 C651.73 436.48 652.93 437.87 654.30 438.30 C655.67 438.73 657.05 438.57 658.40 437.80 C659.75 437.03 661.05 435.23 662.40 433.70 C663.75 432.17 665.13 430.13 666.50 428.60 C667.87 427.07 669.23 425.70 670.60 424.50 C671.97 423.30 673.33 422.25 674.70 421.40 C676.07 420.55 678.12 419.73 678.80 419.40" stroke="#EDB120" stroke-width="3.4" fill="none" stroke-linejoin="round"/>
<line x1="444.70" y1="49.00" x2="668.90" y2="49.00" stroke="#7F7F7F" stroke-width="2.00" stroke-dasharray="9.7 9.8"/>
<line x1="444.70" y1="52.40" x2="668.90" y2="52.40" stroke="#FF00FF" stroke-width="3.00" stroke-dasharray="9.7 9.8"/>
<line x1="444.70" y1="170.00" x2="668.90" y2="170.00" stroke="#7F7F7F" stroke-width="2.00" stroke-dasharray="9.7 9.8"/>
<line x1="444.70" y1="167.30" x2="668.90" y2="167.30" stroke="#FF00FF" stroke-width="3.00" stroke-dasharray="9.7 9.8"/>
<line x1="444.70" y1="213.00" x2="668.90" y2="213.00" stroke="#7F7F7F" stroke-width="2.00" stroke-dasharray="9.7 9.8"/>
<line x1="444.70" y1="224.40" x2="668.90" y2="224.40" stroke="#FF00FF" stroke-width="3.00" stroke-dasharray="9.7 9.8"/>
<line x1="444.70" y1="327.30" x2="668.90" y2="327.30" stroke="#7F7F7F" stroke-width="2.00" stroke-dasharray="9.7 9.8"/>
<line x1="444.70" y1="316.30" x2="668.90" y2="316.30" stroke="#FF00FF" stroke-width="3.00" stroke-dasharray="9.7 9.8"/>
<line x1="444.70" y1="375.40" x2="668.90" y2="375.40" stroke="#7F7F7F" stroke-width="2.00" stroke-dasharray="9.7 9.8"/>
<line x1="444.70" y1="391.60" x2="668.90" y2="391.60" stroke="#FF00FF" stroke-width="3.00" stroke-dasharray="9.7 9.8"/>
<line x1="444.70" y1="459.80" x2="668.90" y2="459.80" stroke="#7F7F7F" stroke-width="2.00" stroke-dasharray="9.7 9.8"/>
<line x1="444.70" y1="443.50" x2="668.90" y2="443.50" stroke="#FF00FF" stroke-width="3.00" stroke-dasharray="9.7 9.8"/>
<g stroke="#646464" stroke-width="1" fill="none">
<path d="M444.90 48.20 L444.90 178.50 L678.40 178.50"/>
<path d="M444.90 198.80 L444.90 327.50 L678.40 327.50"/>
<path d="M444.90 352.70 L444.90 482.50 L678.40 482.50"/>
<line x1="444.70" y1="75.30" x2="447.00" y2="75.30"/>
<line x1="444.70" y1="105.90" x2="447.00" y2="105.90"/>
<line x1="444.70" y1="136.50" x2="447.00" y2="136.50"/>
<line x1="444.70" y1="167.10" x2="447.00" y2="167.10"/>
<line x1="444.70" y1="213.00" x2="447.00" y2="213.00"/>
<line x1="444.70" y1="270.30" x2="447.00" y2="270.30"/>
<line x1="444.70" y1="327.30" x2="447.00" y2="327.30"/>
<line x1="444.70" y1="352.70" x2="447.00" y2="352.70"/>
<line x1="444.70" y1="417.50" x2="447.00" y2="417.50"/>
<line x1="444.70" y1="482.30" x2="447.00" y2="482.30"/>
<line x1="444.70" y1="178.50" x2="444.70" y2="176.20"/>
<line x1="513.33" y1="178.50" x2="513.33" y2="176.20"/>
<line x1="581.96" y1="178.50" x2="581.96" y2="176.20"/>
<line x1="650.59" y1="178.50" x2="650.59" y2="176.20"/>
<line x1="444.70" y1="327.50" x2="444.70" y2="325.20"/>
<line x1="513.33" y1="327.50" x2="513.33" y2="325.20"/>
<line x1="581.96" y1="327.50" x2="581.96" y2="325.20"/>
<line x1="650.59" y1="327.50" x2="650.59" y2="325.20"/>
<line x1="444.70" y1="482.50" x2="444.70" y2="480.20"/>
<line x1="513.33" y1="482.50" x2="513.33" y2="480.20"/>
<line x1="581.96" y1="482.50" x2="581.96" y2="480.20"/>
<line x1="650.59" y1="482.50" x2="650.59" y2="480.20"/>
</g>
<circle cx="444.90" cy="151.10" r="7.40" stroke="#77AC30" stroke-width="4.80" fill="none"/>
<g stroke="#7F7F7F" stroke-width="1" fill="none">
<rect x="482.9" y="348.6" width="34.4" height="133.7"/>
<line x1="456.3" y1="514.5" x2="482.9" y2="415.5"/>
<line x1="585.4" y1="514.5" x2="517.3" y2="415.5"/>
</g>
<g style="font-family:'Liberation Sans',sans-serif">
<text x="437.40" y="82.20" text-anchor="end" font-size="17.6" fill="#262626" textLength="27.6" lengthAdjust="spacingAndGlyphs">0.4</text>
<text x="437.40" y="112.80" text-anchor="end" font-size="17.6" fill="#262626" textLength="27.6" lengthAdjust="spacingAndGlyphs">0.2</text>
<text x="437.40" y="143.50" text-anchor="end" font-size="17.6" fill="#262626">0</text>
<text x="437.40" y="173.90" text-anchor="end" font-size="17.6" fill="#262626" textLength="32.8" lengthAdjust="spacingAndGlyphs">-0.2</text>
<text x="437.40" y="220.50" text-anchor="end" font-size="17.6" fill="#262626" textLength="27.6" lengthAdjust="spacingAndGlyphs">0.5</text>
<text x="437.40" y="277.40" text-anchor="end" font-size="17.6" fill="#262626">0</text>
<text x="437.40" y="335.30" text-anchor="end" font-size="17.6" fill="#262626" textLength="32.8" lengthAdjust="spacingAndGlyphs">-0.5</text>
<text x="437.40" y="360.30" text-anchor="end" font-size="17.6" fill="#262626">2</text>
<text x="437.40" y="424.10" text-anchor="end" font-size="17.6" fill="#262626">0</text>
<text x="437.40" y="489.20" text-anchor="end" font-size="17.6" fill="#262626">-2</text>
<text x="445.20" y="506.10" text-anchor="middle" font-size="17.6" fill="#262626">0</text>
<text x="513.83" y="506.10" text-anchor="middle" font-size="17.6" fill="#262626">1</text>
<text x="582.46" y="506.10" text-anchor="middle" font-size="17.6" fill="#262626">2</text>
<text x="651.09" y="506.10" text-anchor="middle" font-size="17.6" fill="#262626">3</text>
<text x="448.80" y="521.80" text-anchor="end" font-size="17.6" fill="#262626" textLength="21.8" lengthAdjust="spacingAndGlyphs">15</text>
<text x="448.80" y="539.20" text-anchor="end" font-size="17.6" fill="#262626" textLength="21.8" lengthAdjust="spacingAndGlyphs">10</text>
<text x="448.80" y="556.90" text-anchor="end" font-size="17.6" fill="#262626">5</text>
<text x="448.80" y="574.50" text-anchor="end" font-size="17.6" fill="#262626">0</text>
</g>
<svg x="456.4" y="514.5" width="129" height="69" viewBox="456.4 514.5 129 69" overflow="hidden">
<path d="M456 564.7 L528.5 564.7 L533 568.8 L586 568.8" stroke="#B845FF" stroke-width="2.8" fill="none"/>
<path d="M456 567.8 L490 567.2 L500 566.6 L510 565.6 L520 564.8 L530 564.3 L545 564.1 L586 564" stroke="#0000FF" stroke-width="3.2" fill="none" stroke-dasharray="3.2 4.1"/>
<line x1="456.5" y1="563.4" x2="590" y2="563.4" stroke="#808080" stroke-width="2.6" stroke-dasharray="9.5 9.85"/>
<line x1="456.5" y1="572.3" x2="590" y2="572.3" stroke="#808080" stroke-width="2.6" stroke-dasharray="9.5 9.85"/>
<line x1="456.5" y1="565.4" x2="590" y2="565.4" stroke="#FF00FF" stroke-width="2" stroke-dasharray="9.5 9.85"/>
<line x1="456.5" y1="570.1" x2="590" y2="570.1" stroke="#FF00FF" stroke-width="2.2" stroke-dasharray="9.5 9.85"/>
<path d="M456.00 567.80 C458.33 567.75 466.00 567.62 470.00 567.50 C474.00 567.38 476.92 567.40 480.00 567.10 C483.08 566.80 486.27 566.52 488.50 565.70 C490.73 564.88 491.98 564.08 493.40 562.20 C494.82 560.32 495.93 558.05 497.00 554.40 C498.07 550.75 498.98 545.72 499.80 540.30 C500.62 534.88 501.32 526.23 501.90 521.90 C502.48 517.57 502.77 514.30 503.30 514.30 C503.83 514.30 504.52 516.38 505.10 521.90 C505.68 527.42 506.28 539.62 506.80 547.40 C507.32 555.18 507.72 562.75 508.20 568.60 C508.68 574.45 509.10 580.33 509.70 582.50 C510.30 584.67 511.10 583.45 511.80 581.60 C512.50 579.75 513.20 574.28 513.90 571.40 C514.60 568.52 515.33 565.95 516.00 564.30 C516.67 562.65 517.18 561.50 517.90 561.50 C518.62 561.50 519.32 563.12 520.30 564.30 C521.28 565.48 522.52 567.93 523.80 568.60 C525.08 569.27 526.35 568.45 528.00 568.30 C529.65 568.15 530.87 567.82 533.70 567.70 C536.53 567.58 536.28 567.62 545.00 567.60 C553.72 567.58 579.17 567.60 586.00 567.60" stroke="#EDB120" stroke-width="3.6" fill="none"/>
</svg>
<path d="M456.4 514.5 L456.4 583.5 L585.5 583.5 L585.5 514.5 Z" stroke="#4D4D4D" stroke-width="1" fill="none"/>
<line x1="456.4" y1="515.50" x2="458.2" y2="515.50" stroke="#4D4D4D" stroke-width="1"/>
<line x1="585.5" y1="515.50" x2="583.7" y2="515.50" stroke="#4D4D4D" stroke-width="1"/>
<line x1="456.4" y1="532.90" x2="458.2" y2="532.90" stroke="#4D4D4D" stroke-width="1"/>
<line x1="585.5" y1="532.90" x2="583.7" y2="532.90" stroke="#4D4D4D" stroke-width="1"/>
<line x1="456.4" y1="550.60" x2="458.2" y2="550.60" stroke="#4D4D4D" stroke-width="1"/>
<line x1="585.5" y1="550.60" x2="583.7" y2="550.60" stroke="#4D4D4D" stroke-width="1"/>
<line x1="456.4" y1="568.20" x2="458.2" y2="568.20" stroke="#4D4D4D" stroke-width="1"/>
<line x1="585.5" y1="568.20" x2="583.7" y2="568.20" stroke="#4D4D4D" stroke-width="1"/>
<g style="font-family:'Liberation Serif',serif">
<text x="120.78" y="63.10" font-size="26.30" fill="#111" textLength="105.28" lengthAdjust="spacingAndGlyphs" stroke="#fff" stroke-width="0.28">Cartesian</text>
<text x="234.21" y="63.10" font-size="26.30" fill="#111" textLength="50.94" lengthAdjust="spacingAndGlyphs" stroke="#fff" stroke-width="0.28">path</text>
<text x="536.10" y="38.50" font-size="19.30" fill="#111" textLength="10.00" lengthAdjust="spacingAndGlyphs">x</text>
<text x="553.49" y="38.50" font-size="19.30" fill="#111" textLength="32.53" lengthAdjust="spacingAndGlyphs">axis</text>
<text x="145.67" y="568.00" font-size="21.50" fill="#1a1a1a" textLength="11.46" lengthAdjust="spacingAndGlyphs" stroke="#fff" stroke-width="0.28">x</text>
<path d="M171.20 551.68 H168.38 V572.52 H171.20" stroke="#3a3a3a" stroke-width="0.95" fill="none"/>
<text x="170.99" y="568.00" font-size="21.50" font-style="italic" fill="#1a1a1a" textLength="21.78" lengthAdjust="spacingAndGlyphs" stroke="#fff" stroke-width="0.28">m</text>
<path d="M192.20 551.68 H195.03 V572.52 H192.20" stroke="#3a3a3a" stroke-width="0.95" fill="none"/>
<text x="318.78" y="485.20" font-size="21.50" fill="#1a1a1a" textLength="11.22" lengthAdjust="spacingAndGlyphs" stroke="#fff" stroke-width="0.28">y</text>
<path d="M343.40 469.08 H340.78 V489.92 H343.40" stroke="#3a3a3a" stroke-width="0.95" fill="none"/>
<text x="344.56" y="485.20" font-size="21.50" font-style="italic" fill="#1a1a1a" textLength="20.54" lengthAdjust="spacingAndGlyphs" stroke="#fff" stroke-width="0.28">m</text>
<path d="M365.10 469.08 H367.82 V489.92 H365.10" stroke="#3a3a3a" stroke-width="0.95" fill="none"/>
<text x="600.79" y="522.00" font-size="19.50" fill="#1a1a1a" textLength="36.99" lengthAdjust="spacingAndGlyphs">time</text>
<path d="M649.60 508.78 H647.08 V526.32 H649.60" stroke="#3a3a3a" stroke-width="0.95" fill="none"/>
<text x="650.59" y="522.00" font-size="19.50" font-style="italic" fill="#1a1a1a" textLength="8.23" lengthAdjust="spacingAndGlyphs">s</text>
<path d="M659.40 508.78 H661.52 V526.32 H659.40" stroke="#3a3a3a" stroke-width="0.95" fill="none"/>
<g transform="translate(83.60,0) rotate(-90)"><text x="-359.95" y="0.00" font-size="20.50" fill="#1a1a1a" textLength="9.56" lengthAdjust="spacingAndGlyphs" stroke="#FFE5E5" stroke-width="0.28">z</text><text x="-336.66" y="0.00" font-size="20.50" font-style="italic" fill="#1a1a1a" textLength="20.88" lengthAdjust="spacingAndGlyphs" stroke="#FFE5E5" stroke-width="0.28">m</text></g>
<path d="M66.57 336.70 V339.12 H88.93 V336.70" stroke="#3a3a3a" stroke-width="0.95" fill="none"/><path d="M66.57 315.40 V312.98 H88.93 V315.40" stroke="#3a3a3a" stroke-width="0.95" fill="none"/>
<g transform="translate(393.10,0) rotate(-90)"><text x="-148.16" y="0.00" font-size="20.50" fill="#1a1a1a" textLength="31.75" lengthAdjust="spacingAndGlyphs" stroke="#fff" stroke-width="0.28">pos</text><text x="-103.89" y="-0.60" font-size="20.50" font-style="italic" fill="#1a1a1a" textLength="19.75" lengthAdjust="spacingAndGlyphs" stroke="#fff" stroke-width="0.28">m</text></g>
<path d="M376.68 104.30 V106.33 H396.82 V104.30" stroke="#3a3a3a" stroke-width="0.95" fill="none"/><path d="M376.68 83.90 V81.77 H396.82 V83.90" stroke="#3a3a3a" stroke-width="0.95" fill="none"/>
<g transform="translate(393.30,0) rotate(-90)"><text x="-300.70" y="0.00" font-size="20.50" fill="#1a1a1a" textLength="23.93" lengthAdjust="spacingAndGlyphs" stroke="#fff" stroke-width="0.28">vel</text><text x="-266.74" y="-0.60" font-size="20.50" font-style="italic" fill="#1a1a1a" textLength="18.84" lengthAdjust="spacingAndGlyphs" stroke="#fff" stroke-width="0.28">m</text><text x="-246.95" y="-0.60" font-size="20.50" font-style="italic" fill="#1a1a1a" textLength="5.91" lengthAdjust="spacingAndGlyphs" stroke="#fff" stroke-width="0.28">/</text><text x="-238.33" y="-0.60" font-size="20.50" font-style="italic" fill="#1a1a1a" textLength="8.79" lengthAdjust="spacingAndGlyphs" stroke="#fff" stroke-width="0.28">s</text></g>
<path d="M378.48 266.30 V268.22 H396.82 V266.30" stroke="#3a3a3a" stroke-width="0.95" fill="none"/><path d="M378.48 228.40 V226.88 H396.82 V228.40" stroke="#3a3a3a" stroke-width="0.95" fill="none"/>
<g transform="translate(410.60,0) rotate(-90)"><text x="-467.42" y="0.00" font-size="20.50" fill="#1a1a1a" textLength="41.99" lengthAdjust="spacingAndGlyphs" stroke="#fff" stroke-width="0.28">accel</text><text x="-417.46" y="-0.60" font-size="20.50" font-style="italic" fill="#1a1a1a" textLength="17.26" lengthAdjust="spacingAndGlyphs" stroke="#fff" stroke-width="0.28">m</text><text x="-399.26" y="-0.60" font-size="20.50" font-style="italic" fill="#1a1a1a" textLength="7.19" lengthAdjust="spacingAndGlyphs" stroke="#fff" stroke-width="0.28">/</text><text x="-388.52" y="-0.60" font-size="20.50" font-style="italic" fill="#1a1a1a" textLength="8.56" lengthAdjust="spacingAndGlyphs" stroke="#fff" stroke-width="0.28">s</text><text x="-380.26" y="-8.50" font-size="14.00" fill="#1a1a1a" textLength="5.75" lengthAdjust="spacingAndGlyphs">2</text></g>
<path d="M395.68 417.80 V419.62 H414.12 V417.80" stroke="#3a3a3a" stroke-width="0.95" fill="none"/><path d="M395.68 370.60 V368.98 H414.12 V370.60" stroke="#3a3a3a" stroke-width="0.95" fill="none"/>
<circle cx="21.70" cy="14.50" r="7.50" stroke="#77AC30" stroke-width="4.80" fill="none"/>
<text x="44.33" y="19.40" font-size="21.00" font-style="italic" fill="#000" textLength="9.43" lengthAdjust="spacingAndGlyphs" stroke="#fff" stroke-width="0.28">p</text>
<text x="53.87" y="23.40" font-size="15.50" fill="#000" textLength="7.86" lengthAdjust="spacingAndGlyphs">0</text>
<path d="M83.00 9.30 L93.80 20.10 M83.00 20.10 L93.80 9.30" stroke="#FF0000" stroke-width="4.40" fill="none"/>
<text x="110.40" y="19.40" font-size="21.00" font-style="italic" fill="#000" textLength="10.85" lengthAdjust="spacingAndGlyphs" stroke="#fff" stroke-width="0.28">g</text>
<path d="M141.90 9.30 L152.70 20.10 M141.90 20.10 L152.70 9.30" stroke="#FF00FF" stroke-width="4.40" fill="none"/>
<text x="169.10" y="19.40" font-size="21.00" font-style="italic" fill="#000" textLength="10.32" lengthAdjust="spacingAndGlyphs" stroke="#fff" stroke-width="0.28">g</text>
<text x="179.23" y="22.80" font-size="15.00" font-style="italic" fill="#000" textLength="7.77" lengthAdjust="spacingAndGlyphs">d</text>
<line x1="194.4" y1="14.7" x2="233" y2="14.7" stroke="#9A9A9A" stroke-width="4" stroke-dasharray="4.3 2.3"/>
<text x="235.61" y="18.90" font-size="20.50" font-style="italic" fill="#000" textLength="49.48" lengthAdjust="spacingAndGlyphs" stroke="#fff" stroke-width="0.28">demo</text>
<line x1="292.7" y1="14.4" x2="331" y2="14.4" stroke="#0000FF" stroke-width="3.6" stroke-dasharray="4 2.3"/>
<text x="333.9 351.8 376.2" y="19.2" font-size="22.8" font-style="italic" fill="#000" stroke="#fff" stroke-width="0.28">DMP</text>
<line x1="399.1" y1="14.85" x2="436.9" y2="14.85" stroke="#B845FF" stroke-width="4"/>
<line x1="439.8" y1="2.3" x2="497.3" y2="2.3" stroke="#000" stroke-width="0.9"/>
<text x="440.2 459.3 482.4" y="20.5" font-size="22.8" font-style="italic" fill="#000" stroke="#fff" stroke-width="0.28">DMP</text>
<text x="498.25" y="12.00" font-size="14.00" fill="#000" textLength="7.50" lengthAdjust="spacingAndGlyphs">*</text>
<text x="498.91" y="24.60" font-size="14.50" font-style="italic" fill="#000" textLength="7.55" lengthAdjust="spacingAndGlyphs">p</text>
<line x1="513.5" y1="14.4" x2="551.5" y2="14.4" stroke="#EDB120" stroke-width="4"/>
<text x="555.1 572.9 596.2" y="19.7" font-size="22.8" font-style="italic" fill="#000" stroke="#fff" stroke-width="0.28">DMP</text>
<line x1="619.3" y1="13.7" x2="632" y2="13.7" stroke="#000" stroke-width="1"/>
<text x="639.8 656.3" y="19.7" font-size="22.8" font-style="italic" fill="#000" stroke="#fff" stroke-width="0.28">RF</text>
</g>
</svg>
</body></html>
